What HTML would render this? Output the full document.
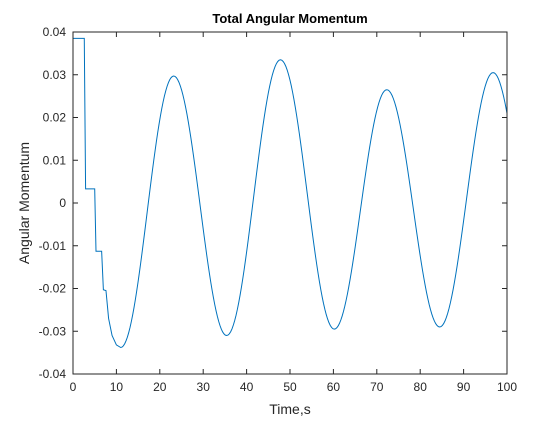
<!DOCTYPE html>
<html><head><meta charset="utf-8"><style>
body{margin:0;background:#fff;width:560px;height:420px;overflow:hidden}
svg{font-family:"Liberation Sans",Arial,sans-serif;}
</style></head><body>
<svg id="chart" width="560" height="420" viewBox="0 0 560 420">
<rect width="560" height="420" fill="#fff"/>
<g id="axes"></g>
<text x="290" y="23" text-anchor="middle" font-size="13" font-weight="bold" fill="#000">Total Angular Momentum</text>
<text x="290" y="414" text-anchor="middle" font-size="14" fill="#262626">Time,s</text>
<text transform="translate(29,203) rotate(-90)" text-anchor="middle" font-size="14" fill="#262626">Angular Momentum</text>
</svg>
<script>
const xTicks=[0,10,20,30,40,50,60,70,80,90,100];
const yTicks=[-0.04,-0.03,-0.02,-0.01,0,0.01,0.02,0.03,0.04];
const yTickLabels=["-0.04","-0.03","-0.02","-0.01","0","0.01","0.02","0.03","0.04"];
const earlyT=[0,2.6,2.9,5.0,5.3,6.6,7.0,7.6,8.2,9,10,11];
const earlyV=[0.0385,0.0385,0.0033,0.0033,-0.0113,-0.0113,-0.0203,-0.0205,-0.027,-0.031,-0.0332,-0.0338];
const extremaT=[11,23.2,35.4,47.8,60.2,72.3,84.5,96.8,109];
const extremaV=[-0.0338,0.0297,-0.031,0.0335,-0.0295,0.0265,-0.029,0.0305,-0.029];

const L=73,R=507,T=32,B=374;
const xs=t=>L+(t-0)/(100-0)*(R-L);
const ys=v=>B-(v+0.04)/0.08*(B-T);
const NS="http://www.w3.org/2000/svg";
const g=document.getElementById('axes');
function mk(tag,attrs){const e=document.createElementNS(NS,tag);for(const k in attrs)e.setAttribute(k,attrs[k]);g.appendChild(e);return e;}

xTicks.forEach(t=>{
  const x=xs(t);
  const a=mk('line',{x1:x,x2:x,y1:B,y2:B-5,stroke:'#262626','stroke-width':1});
  
  
  const b=mk('line',{x1:x,x2:x,y1:T,y2:T+5,stroke:'#262626','stroke-width':1});
  
  
  const tx=mk('text',{x:x,y:B+17,'text-anchor':'middle','font-size':12,fill:'#262626'});
  tx.textContent=String(t);
  
  
});
yTicks.forEach((v,i)=>{
  const y=ys(v);
  const a=mk('line',{x1:L,x2:L+5,y1:y,y2:y,stroke:'#262626','stroke-width':1});
  
  
  const b=mk('line',{x1:R,x2:R-5,y1:y,y2:y,stroke:'#262626','stroke-width':1});
  
  
  const tx=mk('text',{x:L-7,y:y+4,'text-anchor':'end','font-size':12,fill:'#262626'});
  tx.textContent=yTickLabels[i];
  
  
});

let pts=[];
for(let i=0;i<earlyT.length;i++)pts.push([xs(earlyT[i]),ys(earlyV[i])]);
for(let i=0;i<extremaT.length-1;i++){
  const t0=extremaT[i],t1=extremaT[i+1],v0=extremaV[i],v1=extremaV[i+1];
  for(let k=1;k<=40;k++){
    const f=k/40,t=t0+(t1-t0)*f;
    if(t>100)break;
    const v=(v0+v1)/2+(v0-v1)/2*Math.cos(Math.PI*f);
    pts.push([xs(t),ys(v)]);
  }
}
const last=extremaT.length-2;
const f=(100-extremaT[last])/(extremaT[last+1]-extremaT[last]);
pts.push([xs(100),ys((extremaV[last]+extremaV[last+1])/2+(extremaV[last]-extremaV[last+1])/2*Math.cos(Math.PI*f))]);
const line=mk('polyline',{points:pts.map(p=>p[0].toFixed(2)+','+p[1].toFixed(2)).join(' '),fill:'none',stroke:'#0072BD','stroke-width':1});



const box=mk('rect',{x:L,y:T,width:R-L,height:B-T,fill:'none',stroke:'#262626','stroke-width':1});


</script>
</body></html>
